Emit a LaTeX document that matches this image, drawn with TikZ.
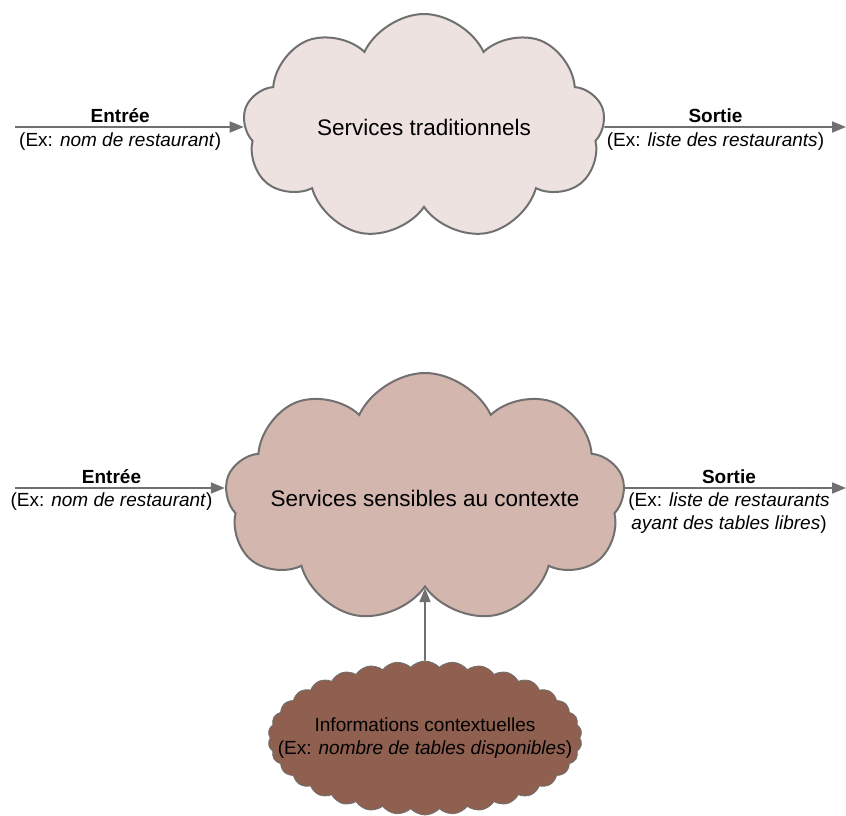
\documentclass[tikz,border=0pt]{standalone}
\usepackage{fontspec}
\setmainfont{Liberation Sans}
\usetikzlibrary{arrows.meta,positioning,shapes.symbols}
\definecolor{cloudlight}{HTML}{EDE2DF}
\definecolor{cloudmid}{HTML}{D3B6AD}
\definecolor{clouddark}{HTML}{8F5F4F}
\definecolor{linegray}{HTML}{707070}
\begin{document}
\begin{tikzpicture}[x=1pt,y=1pt]
	\tikzstyle{service} = [cloud, cloud ignores aspect, draw=linegray, line width=2pt, cloud puffs=9, cloud puff arc=130, inner sep=0pt, font=\fontsize{22.5}{27}\selectfont];
	\tikzstyle{flow} = [draw=linegray, line width=1.8pt, -{Triangle[length=14pt,width=11pt]}];
	\tikzstyle{flowtext} = [font=\fontsize{19}{23}\selectfont, inner sep=3pt];
	\useasboundingbox (0,0) rectangle (846,-816);
	\node at (424,-127) (trad) [service, fill=cloudlight, minimum width=362pt, minimum height=226pt] {Services traditionnels};
	\node at (425,-498) (ctx) [service, fill=cloudmid, minimum width=400pt, minimum height=250pt] {};
	\node (ctx_txt) at (ctx.center) [font=\fontsize{22.5}{27}\selectfont] {Services sensibles au contexte};
	\node at (425,-738) (info) [cloud, cloud ignores aspect, draw=linegray, line width=0.8pt, fill=clouddark, cloud puffs=34, cloud puff arc=95, inner sep=0pt, minimum width=314pt, minimum height=154pt] {};
	\node (info_txt) at (info.center) [flowtext, align=center] {Informations contextuelles\\(Ex: \textit{nombre de tables disponibles})};
	\coordinate (in1) at (15,-127);
	\coordinate (out1) at (846,-127);
	\coordinate (in2) at (15,-488);
	\coordinate (out2) at (846,-488);
	\draw [flow] (in1) -- node (in1_top) [flowtext, above, pos=0.46] {\textbf{Entrée}} node (in1_bot) [flowtext, below, pos=0.46, inner sep=5pt] {(Ex: \textit{nom de restaurant})} (trad.180);
	\draw [flow] (trad.0) -- node (out1_top) [flowtext, above, pos=0.46] {\textbf{Sortie}} node (out1_bot) [flowtext, below, pos=0.46, inner sep=5pt] {(Ex: \textit{liste des restaurants})} (out1);
	\draw [flow] (in2) -- node (in2_top) [flowtext, above, pos=0.46] {\textbf{Entrée}} node (in2_bot) [flowtext, below, pos=0.46, inner sep=4pt] {(Ex: \textit{nom de restaurant})} (in2 -| ctx.178);
	\draw [flow] (out2 -| ctx.2) -- node (out2_top) [flowtext, above, pos=0.47] {\textbf{Sortie}} node (out2_bot) [flowtext, below, pos=0.47, inner sep=4pt, align=center] {(Ex: \textit{liste de restaurants}\\\textit{ayant des tables libres})} (out2);
	\draw [flow] (info.north) -- (ctx.south);
\end{tikzpicture}
\end{document}
